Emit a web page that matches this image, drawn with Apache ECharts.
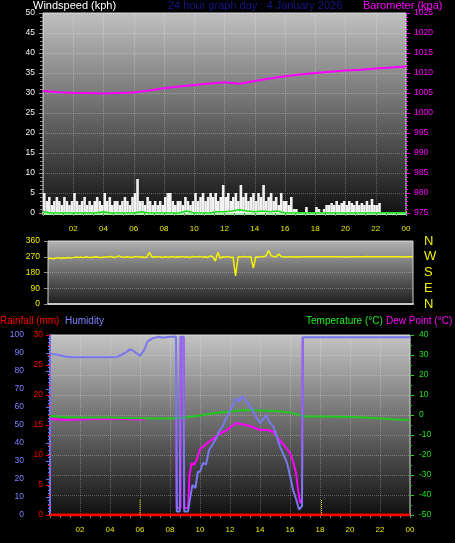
<!DOCTYPE html>
<html>
<head>
<meta charset="utf-8">
<script src="https://cdn.jsdelivr.net/npm/echarts@6/dist/echarts.min.js"></script>
<style>
  html, body { margin: 0; padding: 0; background: #000; }
  #chart { width: 455px; height: 543px; }
</style>
</head>
<body>
<div id="chart"></div>
<script>
// wind gust, 10 minute slots
const windGust = [
  5, 3, 4, 2, 3, 4,
  3, 2, 4, 3, 2, 3,
  5, 3, 2, 3, 4, 2,
  3, 2, 3, 4, 3, 2,
  5, 3, 4, 2, 3, 3,
  2, 3, 4, 3, 2, 4,
  5, 8.5, 3, 3, 2, 4,
  3, 2, 3, 2, 3, 2,
  4, 5, 5, 3, 2, 3,
  3, 2, 4, 3, 2, 3,
  5, 3, 4, 5, 3, 4,
  5, 4, 5, 3, 4, 7,
  4, 5, 3, 4, 5, 3,
  7, 4, 5, 3, 4, 5,
  3, 5, 4, 7, 3, 4,
  5, 3, 4, 2, 5, 3,
  3, 2, 4, 1, 1, 0,
  0, 0, 1.5, 0, 0, 0,
  1.5, 1, 0, 1, 2, 2,
  2.5, 2, 3, 2, 2.5, 3,
  2, 3, 2.5, 2, 3, 2,
  2.5, 2, 3, 2, 3.5, 2,
  2, 2.5, 0, 0, 0, 0,
  0, 0, 0, 0, 0, 0
]
// average wind, 30 minute steps
const windAvg = [
  0.4, 0, 0, 0, 0, 0, 0, 0, 0.3, 0, 0, 0,
  0, 0.3, 0, 0, 0, 0, 0, 0.5, 0, 0, 0, 0.3,
  0.3, 0.5, 0.8, 0.5, 0.3, 0.5, 0.3, 0.5, 0, 0, 0, 0,
  0, 0, 0, 0, 0, 0, 0, 0, 0, 0, 0, 0, 0
]
// barometer, hourly
const baro = [1005.5, 1005.2, 1005.0, 1005.0, 1004.9, 1005.0, 1005.1, 1005.6, 1006.2, 1006.6,
  1007.0, 1007.4, 1007.7, 1007.3, 1008.0, 1008.6, 1009.2, 1009.6, 1010.0, 1010.3,
  1010.6, 1010.8, 1011.1, 1011.4, 1011.6]
// wind direction, 10 minute steps
const windDir = [
  260, 262, 258, 262, 265, 260,
  264, 262, 266, 263, 265, 268,
  266, 268, 265, 270, 267, 266,
  268, 270, 267, 266, 269, 268,
  270, 272, 266, 269, 275, 268,
  267, 270, 268, 266, 270, 272,
  268, 270, 266, 269, 295, 268,
  270, 268, 272, 266, 270, 268,
  268, 271, 267, 270, 269, 272,
  268, 270, 266, 272, 268, 270,
  272, 268, 270, 266, 275, 270,
  245, 295, 262, 270, 268, 272,
  266, 268, 160, 270, 268, 272,
  270, 268, 272, 205, 270, 268,
  272, 270, 275, 305, 276, 272,
  270, 285, 272, 270, 268, 270,
  270, 268, 270, 269, 270, 270,
  270, 270, 270, 270, 270, 270,
  270, 270, 270, 270, 270, 270,
  270, 270, 270, 268, 270, 270,
  270, 270, 270, 270, 270, 270,
  272, 270, 270, 270, 270, 270,
  270, 270, 270, 270, 270, 270,
  270, 270, 270, 268, 270, 270,
  270
]
const humTimes = [0, 0.5, 1, 1.5, 2, 3, 4, 4.5, 5, 5.33, 5.6, 6, 6.3, 6.5, 6.8, 7.1, 7.3, 7.5, 8, 8.4,
  8.45, 8.65, 8.7, 8.9, 8.95, 9.2, 9.35, 9.5, 9.7, 9.85, 10, 10.2, 10.4, 10.6, 10.9, 11.1, 11.3, 11.5, 11.7, 12,
  12.2, 12.4, 12.6, 12.8, 13, 13.1, 13.3, 13.5, 13.7, 14, 14.2, 14.4, 14.6, 14.9, 15.1, 15.33, 15.6, 15.8, 16, 16.2,
  16.4, 16.6, 16.67, 16.8, 16.85, 17, 18, 19, 20, 21, 22, 23, 23.3, 23.4, 23.5, 24]
const humValues = [89.5, 89, 88, 87.6, 87.6, 87.6, 87.6, 87.8, 90, 92, 91, 88.3, 92, 96.3, 98, 98.7, 99, 98.5, 99, 99,
  2, 2, 99, 99, 2, 2, 10, 16.7, 15, 24, 24, 29, 28, 36, 40, 43, 47, 49, 53, 58,
  61, 65, 63, 66, 64, 65, 61, 58, 55, 51, 53, 55.6, 52, 49, 44, 38, 33, 29, 22, 14,
  9, 3, 2, 5, 98.7, 98.7, 98.7, 98.7, 98.7, 98.7, 98.7, 98.7, 98.7, 97.8, 98.7, 98.7]
const dewTimes = [0, 0.5, 1, 2, 3, 4, 5, 6, 6.4, 6.45, 8.42, 8.45, 8.7, 8.72, 8.9, 8.95, 9.2, 9.3, 9.44, 9.6,
  9.8, 10, 10.2, 10.5, 10.9, 11.3, 11.8, 12.4, 12.7, 13.1, 13.5, 14, 14.5, 14.9, 15.3, 15.6, 16, 16.2, 16.4, 16.55,
  16.67, 16.8, 16.85]
const dewValues = [-2, -2.2, -2.5, -2.2, -2, -2, -2, -2.3, -2, null, -2, -46.5, -46.5, 39, 39, -46.5, -46.5, -30, -24, -25,
  -22, -17, -15.8, -14, -11.7, -9.5, -7.5, -4, -4.5, -5, -6, -7.5, -7.5, -8.5, -12.5, -15, -19, -23, -29, -38,
  -44, -42, 39]
// temperature, hourly
const temperature = [-0.5, -1, -1.2, -1.3, -1.3, -1.5, -1.6, -1.7, -1.7, -1.2, -0.3, 1, 1.8, 2.5, 2.3, 2.0, 1.3, -0.8,
  -0.8, -0.9, -1, -1.3, -1.8, -2.3, -2.5]
const rainfall = [0, 0, 0, 0, 0, 0, 0, 0, 0, 0, 0, 0, 0, 0, 0, 0, 0, 0, 0, 0, 0, 0, 0, 0, 0]
const sunTimes = [6.0, 18.1]
const dirNames = { 0: 'N', 90: 'E', 180: 'S', 270: 'W', 360: 'N' }

const font = 'Liberation Sans'
const fmtHour = v => (v === 0 ? '' : String(v % 24).padStart(2, '0'))
const plain = v => String(v)
const bg = (top, bottom) => new echarts.graphic.LinearGradient(0, 0, 0, 1, [
  { offset: 0, color: top }, { offset: 1, color: bottom }
])
const dotted = { show: true, lineStyle: { color: 'rgba(255,255,255,0.28)', type: 'dotted', width: 1 } }
const label = (color, margin, size) => ({ color: color, fontSize: size || 8.5, fontFamily: font, margin: margin, formatter: plain })
const tick = (color, len) => ({ show: true, length: len, lineStyle: { color: color } })

const chart = echarts.init(document.getElementById('chart'))

const txt = (text, left, top, color, size) => ({
  text: text, left: left, top: top, padding: 0,
  textStyle: { color: color, fontSize: size || 11, fontWeight: 'normal', fontFamily: font }
})

chart.setOption({
  animation: false,
  backgroundColor: '#000',
  title: [
    txt('Windspeed (kph)', 33, 0, '#ffffff'),
    txt('24 hour graph day : 4 January 2026', 168, 0, '#16168c'),
    txt('Barometer (kpa)', 363, 0, '#ff00ff'),
    txt('Rainfall (mm)', 0, 316, '#ff0000', 10),
    txt('Humidity', 65, 316, '#8080ff', 10),
    txt('Temperature (°C)', 306, 316, '#20ee20', 10),
    txt('Dew Point (°C)', 386, 316, '#ff00ff', 10)
  ],
  grid: [
    { left: 43, right: 49, top: 13, height: 200, show: true, backgroundColor: bg('#c0c0c0', '#121212'), borderColor: '#d0d0d0', borderWidth: 1 },
    { left: 48, right: 42, top: 241, height: 63, show: true, backgroundColor: bg('#b4b4b4', '#1c1c1c'), borderColor: '#d0d0d0', borderWidth: 1 },
    { left: 50, right: 45, top: 335, height: 180, show: true, backgroundColor: bg('#c4c4c4', '#101010'), borderColor: '#d0d0d0', borderWidth: 1 }
  ],
  xAxis: [
    {
      gridIndex: 0, type: 'value', min: 0, max: 24, interval: 2,
      axisLine: { show: true, onZero: false, lineStyle: { color: '#a8f0a8', width: 3 } },
      axisTick: tick('#808080', 3),
      minorTick: { show: true, splitNumber: 3, length: 3, lineStyle: { color: '#808080' } },
      axisLabel: Object.assign(label('#e8e800', 12, 8), { formatter: fmtHour }),
      splitLine: dotted
    },
    {
      gridIndex: 1, type: 'value', min: 0, max: 24, interval: 2,
      axisLine: { show: true, onZero: false, lineStyle: { color: '#c8c8c8', width: 2 } },
      axisTick: { show: false }, axisLabel: { show: false }, splitLine: { show: false }
    },
    {
      gridIndex: 2, type: 'value', min: 0, max: 24, interval: 2,
      axisLine: { show: true, onZero: false, lineStyle: { color: '#c8c8c8', width: 2 } },
      axisTick: tick('#808080', 3),
      minorTick: { show: true, splitNumber: 3, length: 3, lineStyle: { color: '#808080' } },
      axisLabel: Object.assign(label('#e8e800', 11, 8), { formatter: fmtHour }),
      splitLine: dotted
    }
  ],
  yAxis: [
    {
      gridIndex: 0, type: 'value', min: 0, max: 50, interval: 5,
      axisLine: { show: false }, axisTick: tick('#909090', 4),
      minorTick: { show: true, splitNumber: 5, length: 3, lineStyle: { color: '#909090' } },
      axisLabel: label('#f4f4f4', 8), splitLine: dotted
    },
    {
      gridIndex: 0, type: 'value', position: 'right', min: 975, max: 1025, interval: 5,
      axisLine: { show: false }, axisTick: tick('#ff00ff', 4),
      minorTick: { show: true, splitNumber: 5, length: 2, lineStyle: { color: '#ff00ff' } },
      axisLabel: label('#ff00ff', 8), splitLine: { show: false }
    },
    {
      gridIndex: 1, type: 'value', min: 0, max: 360, interval: 90,
      axisLine: { show: false }, axisTick: tick('#909090', 4),
      axisLabel: label('#f0f000', 8), splitLine: dotted
    },
    {
      gridIndex: 1, type: 'value', position: 'right', min: 0, max: 360, interval: 90,
      axisLine: { show: false }, axisTick: { show: false },
      axisLabel: Object.assign(label('#f0f000', 11, 13), { formatter: v => dirNames[v] }),
      splitLine: { show: false }
    },
    {
      gridIndex: 2, type: 'value', position: 'left', offset: 21, min: 0, max: 100, interval: 10,
      axisLine: { show: true, lineStyle: { color: '#7070f0', width: 2 } }, axisTick: tick('#7070f0', 4),
      minorTick: { show: true, splitNumber: 5, length: 2, lineStyle: { color: '#7070f0' } },
      axisLabel: label('#8080ff', 5), splitLine: { show: false }
    },
    {
      gridIndex: 2, type: 'value', position: 'left', min: 0, max: 30, interval: 5,
      axisLine: { show: false }, axisTick: tick('#ff0000', 4),
      minorTick: { show: true, splitNumber: 3, length: 2, lineStyle: { color: '#ff0000' } },
      axisLabel: label('#ff0000', 7), splitLine: { show: false }
    },
    {
      gridIndex: 2, type: 'value', position: 'right', min: -50, max: 40, interval: 10,
      axisLine: { show: false }, axisTick: tick('#20d020', 4),
      minorTick: { show: true, splitNumber: 2, length: 2, lineStyle: { color: '#20d020' } },
      axisLabel: label('#20e020', 9), splitLine: dotted
    }
  ],
  series: [
    {
      type: 'bar', xAxisIndex: 0, yAxisIndex: 0, barWidth: 2.6,
      itemStyle: { color: '#f2f2f2' },
      data: windGust.map((v, i) => [i / 6 + 1 / 12, v])
    },
    {
      type: 'line', xAxisIndex: 0, yAxisIndex: 0, symbol: 'none',
      lineStyle: { color: '#10e010', width: 1.5 },
      data: windAvg.map((v, i) => [i * 0.5, v])
    },
    {
      type: 'line', xAxisIndex: 0, yAxisIndex: 1, symbol: 'none',
      lineStyle: { color: '#ff00ff', width: 2 },
      data: baro.map((v, i) => [i, v])
    },
    {
      type: 'line', xAxisIndex: 1, yAxisIndex: 2, symbol: 'none',
      lineStyle: { color: '#f4f400', width: 1.5 },
      data: windDir.map((v, i) => [i / 6, v])
    },
    {
      type: 'line', xAxisIndex: 2, yAxisIndex: 6, symbol: 'none',
      lineStyle: { color: '#ff00ff', width: 2 },
      data: dewTimes.map((t, i) => [t, dewValues[i] === null ? '-' : dewValues[i]])
    },
    {
      type: 'line', xAxisIndex: 2, yAxisIndex: 6, symbol: 'none',
      lineStyle: { color: '#20c820', width: 2 },
      data: temperature.map((v, i) => [i, v])
    },
    {
      type: 'line', xAxisIndex: 2, yAxisIndex: 4, symbol: 'none',
      lineStyle: { color: '#7878f0', width: 2 },
      data: humTimes.map((t, i) => [t, humValues[i]])
    },
    {
      type: 'line', xAxisIndex: 2, yAxisIndex: 5, symbol: 'none',
      lineStyle: { color: '#ff0000', width: 3 },
      data: rainfall.map((v, i) => [i, v])
    },
    {
      type: 'line', xAxisIndex: 2, yAxisIndex: 5, symbol: 'none',
      lineStyle: { color: '#f0f000', width: 1, type: 'dotted' },
      data: sunTimes.flatMap(t => [[t, 0], [t, 2.6], [t, '-']])
    }
  ]
})
</script>
</body>
</html>
